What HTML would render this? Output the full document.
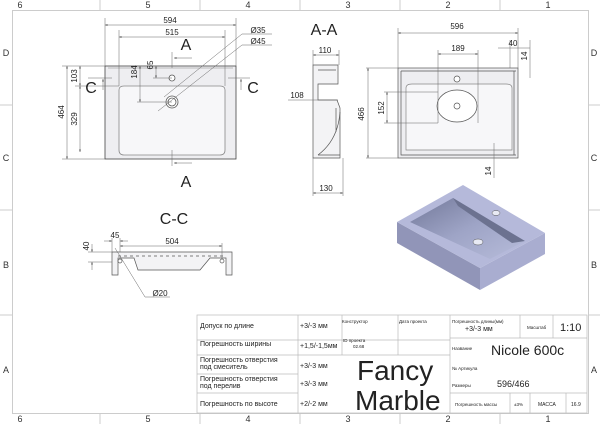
<!DOCTYPE html>
<html><head><meta charset="utf-8"><style>
html,body{margin:0;padding:0;background:#fff;}
svg{display:block;font-family:"Liberation Sans",sans-serif;}
.t{font-family:"Liberation Sans","Noto Sans CJK SC",sans-serif;fill:#222;}
</style></head><body>
<svg width="600" height="424" viewBox="0 0 600 424" xmlns="http://www.w3.org/2000/svg">
<defs>
<marker id="ar" markerWidth="6" markerHeight="6" refX="5" refY="3" orient="auto-start-reverse"><path d="M0,1.5 L5,3 L0,4.5z" fill="#333"/></marker>
<linearGradient id="bg" x1="0" y1="0" x2="1" y2="1"><stop offset="0" stop-color="#727899"/><stop offset="0.5" stop-color="#9ea4c6"/><stop offset="1" stop-color="#b7bcda"/></linearGradient>
</defs>
<g stroke="#ccc" fill="none" stroke-width="1">
<rect x="12.5" y="10.5" width="576" height="403"/>
<line x1="100" y1="0" x2="100" y2="10"/><line x1="200" y1="0" x2="200" y2="10"/><line x1="300" y1="0" x2="300" y2="10"/><line x1="400" y1="0" x2="400" y2="10"/><line x1="500" y1="0" x2="500" y2="10"/>
<line x1="100" y1="414" x2="100" y2="424"/><line x1="200" y1="414" x2="200" y2="424"/><line x1="300" y1="414" x2="300" y2="424"/><line x1="400" y1="414" x2="400" y2="424"/><line x1="500" y1="414" x2="500" y2="424"/>
<line x1="0" y1="105" x2="12" y2="105"/><line x1="0" y1="210" x2="12" y2="210"/><line x1="0" y1="315" x2="12" y2="315"/>
<line x1="589" y1="105" x2="600" y2="105"/><line x1="589" y1="210" x2="600" y2="210"/><line x1="589" y1="315" x2="600" y2="315"/>
</g>
<g font-size="9" fill="#333" text-anchor="middle">
<text x="20" y="8">6</text><text x="148" y="8">5</text><text x="248" y="8">4</text><text x="348" y="8">3</text><text x="448" y="8">2</text><text x="548" y="8">1</text>
<text x="20" y="422">6</text><text x="148" y="422">5</text><text x="248" y="422">4</text><text x="348" y="422">3</text><text x="448" y="422">2</text><text x="548" y="422">1</text>
<text x="6" y="56">D</text><text x="6" y="161">C</text><text x="6" y="268">B</text><text x="6" y="373">A</text>
<text x="594" y="56">D</text><text x="594" y="161">C</text><text x="594" y="268">B</text><text x="594" y="373">A</text>
</g>

<g stroke="#555" stroke-width="0.8">
<rect x="105" y="66" width="131" height="93" stroke="#444" fill="#eeeef1"/>
<path d="M119,90 Q119,86 124,86 L220,86 Q225,86 225,90 L225,150 Q225,155 220,155 L124,155 Q119,155 119,150Z" stroke="#888" fill="#f7f7f9"/>
<path d="M108,68 L233,68" stroke="#aaa" fill="none"/>
<circle cx="172" cy="102" r="6" fill="#fff"/><circle cx="172" cy="102" r="4" fill="none"/>
<circle cx="172" cy="78" r="3" fill="#fff"/>
</g>
<g stroke="#666" stroke-width="0.5" fill="none">
<line x1="105" y1="18" x2="105" y2="66"/><line x1="236" y1="18" x2="236" y2="66"/>
<line x1="105" y1="25" x2="236" y2="25" marker-start="url(#ar)" marker-end="url(#ar)"/>
<line x1="119" y1="30" x2="119" y2="86"/><line x1="225" y1="30" x2="225" y2="86"/>
<line x1="119" y1="37" x2="225" y2="37" marker-start="url(#ar)" marker-end="url(#ar)"/>
<line x1="62" y1="66" x2="105" y2="66"/><line x1="62" y1="159" x2="105" y2="159"/>
<line x1="67" y1="66" x2="67" y2="159" marker-start="url(#ar)" marker-end="url(#ar)"/>
<line x1="75" y1="86" x2="119" y2="86"/>
<line x1="80" y1="66" x2="80" y2="86" marker-start="url(#ar)" marker-end="url(#ar)"/>
<line x1="80" y1="86" x2="80" y2="152" marker-start="url(#ar)" marker-end="url(#ar)"/>
<line x1="140" y1="66" x2="140" y2="102" marker-start="url(#ar)" marker-end="url(#ar)"/>
<line x1="137" y1="102" x2="172" y2="102"/>
<line x1="156" y1="66" x2="156" y2="78" marker-start="url(#ar)" marker-end="url(#ar)"/>
<line x1="153" y1="78" x2="172" y2="78"/>
<line x1="164" y1="97" x2="242" y2="34"/><line x1="242" y1="34" x2="272" y2="34"/>
<line x1="158" y1="111" x2="242" y2="45"/><line x1="242" y1="45" x2="272" y2="45"/>
<line x1="172" y1="52" x2="172" y2="68"/><line x1="172" y1="150" x2="172" y2="166"/>
<line x1="192" y1="58" x2="174" y2="58" marker-end="url(#ar)"/>
<line x1="192" y1="163" x2="174" y2="163" marker-end="url(#ar)"/>
<line x1="88" y1="78" x2="112" y2="78"/><line x1="228" y1="78" x2="250" y2="78"/>
<line x1="103" y1="90" x2="103" y2="79" marker-end="url(#ar)"/>
<line x1="241" y1="90" x2="241" y2="79" marker-end="url(#ar)"/>
</g>
<g class="t" font-size="8" text-anchor="middle">
<text x="170" y="23">594</text><text x="172" y="35">515</text>
<text transform="translate(64,112) rotate(-90)">464</text>
<text transform="translate(77,76) rotate(-90)">103</text>
<text transform="translate(77,119) rotate(-90)">329</text>
<text transform="translate(137,72) rotate(-90)">184</text>
<text transform="translate(153,65) rotate(-90)">65</text>
<text x="258" y="33">Ø35</text>
<text x="258" y="44">Ø45</text>
</g>
<g class="t" font-size="16" text-anchor="middle">
<text x="186" y="50">A</text><text x="186" y="187">A</text>
<text x="91" y="93">C</text><text x="253" y="93">C</text>
<text x="324" y="35">A-A</text>
<text x="174" y="224">C-C</text>
</g>

<g stroke="#555" fill="none" stroke-width="0.7">
<path d="M313,65 L338,65 L338,84 L318,84 L318,100 L337,100 L340,108 L340,158 L313,158 Z" fill="#f3f3f5"/>
<path d="M318,70 L336,70 M340,112 Q338,140 318,155 M318,155 L340,155 M336,108 L336,132"/>
</g>
<g stroke="#666" stroke-width="0.5" fill="none">
<line x1="313" y1="50" x2="313" y2="65"/><line x1="339" y1="50" x2="339" y2="65"/>
<line x1="313" y1="55" x2="339" y2="55" marker-start="url(#ar)" marker-end="url(#ar)"/>
<line x1="288" y1="100" x2="338" y2="100"/>
<line x1="313" y1="158" x2="313" y2="196"/><line x1="343" y1="158" x2="343" y2="196"/>
<line x1="313" y1="193" x2="343" y2="193" marker-start="url(#ar)" marker-end="url(#ar)"/>
</g>
<g class="t" font-size="8" text-anchor="middle">
<text x="325" y="53">110</text><text x="297" y="98">108</text><text x="326" y="191">130</text>
</g>

<g stroke="#555" stroke-width="0.7">
<rect x="398" y="68" width="120" height="90" fill="#eeeef1"/>
<path d="M401,71 L516,71 M401,71 L401,155 L516,155 M514,71 L514,155" fill="none"/>
<path d="M406,88 Q406,84 412,84 L506,84 Q512,84 512,88 L512,150 L406,150 Z" stroke="#888" fill="#f7f7f9"/>
<ellipse cx="457" cy="106" rx="20" ry="16" fill="#fff"/>
<circle cx="457" cy="106" r="3" fill="none"/><circle cx="457" cy="79" r="3" fill="#fff"/>
</g>
<g stroke="#666" stroke-width="0.5" fill="none">
<line x1="398" y1="28" x2="398" y2="68"/><line x1="518" y1="28" x2="518" y2="68"/>
<line x1="398" y1="33" x2="518" y2="33" marker-start="url(#ar)" marker-end="url(#ar)"/>
<line x1="438" y1="50" x2="438" y2="123"/><line x1="478" y1="50" x2="478" y2="123"/>
<line x1="438" y1="54" x2="478" y2="54" marker-start="url(#ar)" marker-end="url(#ar)"/>
<line x1="510" y1="40" x2="510" y2="68"/>
<line x1="498" y1="48" x2="530" y2="48"/>
<line x1="530" y1="40" x2="530" y2="78"/>
<line x1="366" y1="68" x2="398" y2="68"/><line x1="366" y1="158" x2="398" y2="158"/>
<line x1="368" y1="68" x2="368" y2="158" marker-start="url(#ar)" marker-end="url(#ar)"/>
<line x1="384" y1="92" x2="438" y2="92"/><line x1="384" y1="123" x2="438" y2="123"/>
<line x1="387" y1="92" x2="387" y2="123" marker-start="url(#ar)" marker-end="url(#ar)"/>
<line x1="494" y1="143" x2="494" y2="178"/>
</g>
<g class="t" font-size="8" text-anchor="middle">
<text x="457" y="29">596</text><text x="458" y="51">189</text><text x="513" y="46">40</text>
<text transform="translate(527,56) rotate(-90)">14</text>
<text transform="translate(364,114) rotate(-90)">466</text>
<text transform="translate(384,108) rotate(-90)">152</text>
<text transform="translate(491,171) rotate(-90)">14</text>
</g>

<polygon points="397,222 480,268 480,290 397,243" fill="#9195b8"/>
<polygon points="480,268 545,233 545,254 480,290" fill="#a9add0"/>
<polygon points="463,185 545,233 480,268 397,222" fill="#b5b9da"/>
<polygon points="453,198 525,241 490,259 410,222" fill="url(#bg)"/>
<polygon points="453,198 525,241 512,243 458,206" fill="#6c7290"/>
<ellipse cx="496" cy="213" rx="4" ry="2.5" fill="#e8eaf4" stroke="#555" stroke-width="0.5"/>
<ellipse cx="478" cy="242" rx="5" ry="3" fill="#e8eaf4" stroke="#555" stroke-width="0.5"/>

<g stroke="#555" fill="none" stroke-width="0.7">
<path d="M112,252 L232,252 L232,275 L226,275 L226,258 L210,258 L200,270 L138,270 L134,258 L118,258 L118,275 L112,275 Z" fill="#f3f3f5"/>
<line x1="118" y1="256" x2="226" y2="256" stroke-dasharray="3,3"/>
<circle cx="120" cy="261" r="2"/><circle cx="222" cy="261" r="2"/>
</g>
<g stroke="#666" stroke-width="0.5" fill="none">
<line x1="112" y1="238" x2="112" y2="252"/><line x1="120" y1="238" x2="120" y2="252"/>
<line x1="104" y1="241" x2="112" y2="241" marker-end="url(#ar)"/>
<line x1="128" y1="241" x2="120" y2="241" marker-end="url(#ar)"/>
<line x1="120" y1="246" x2="222" y2="246" marker-start="url(#ar)" marker-end="url(#ar)"/>
<line x1="222" y1="243" x2="222" y2="258"/>
<line x1="88" y1="252" x2="112" y2="252"/><line x1="88" y1="262" x2="112" y2="262"/>
<line x1="92" y1="244" x2="92" y2="252" marker-end="url(#ar)"/>
<line x1="92" y1="270" x2="92" y2="262" marker-end="url(#ar)"/>
<line x1="115" y1="248" x2="145" y2="297"/><line x1="145" y1="297" x2="170" y2="297"/>
</g>
<g class="t" font-size="8" text-anchor="middle">
<text x="115" y="238">45</text><text x="172" y="244">504</text>
<text transform="translate(89,246) rotate(-90)">40</text>
<text x="160" y="296">Ø20</text>
</g>

<g stroke="#bbb" stroke-width="0.7" fill="none">
<rect x="197" y="315" width="390" height="98"/>
<line x1="197" y1="340" x2="450" y2="340"/><line x1="197" y1="355" x2="298" y2="355"/>
<line x1="197" y1="374" x2="298" y2="374"/><line x1="197" y1="393" x2="298" y2="393"/>
<line x1="298" y1="355" x2="450" y2="355"/>
<line x1="298" y1="315" x2="298" y2="413"/><line x1="342" y1="315" x2="342" y2="355"/>
<line x1="398" y1="315" x2="398" y2="355"/><line x1="450" y1="315" x2="450" y2="413"/>
<line x1="520" y1="315" x2="520" y2="338"/><line x1="553" y1="315" x2="553" y2="338"/>
<line x1="450" y1="338" x2="587" y2="338"/><line x1="450" y1="393" x2="587" y2="393"/>
<line x1="510" y1="393" x2="510" y2="413"/><line x1="530" y1="393" x2="530" y2="413"/><line x1="566" y1="393" x2="566" y2="413"/>
</g>
<g class="t" font-size="7">
<text x="200" y="328">Допуск по длине</text>
<text x="200" y="346">Погрешность ширины</text>
<text x="200" y="362">Погрешность отверстия</text><text x="200" y="369">под смеситель</text>
<text x="200" y="381">Погрешность отверстия</text><text x="200" y="388">под перелив</text>
<text x="200" y="406">Погрешность по высоте</text>
<text x="300" y="328">+3/-3 мм</text><text x="300" y="348">+1,5/-1,5мм</text>
<text x="300" y="368">+3/-3 мм</text><text x="300" y="386">+3/-3 мм</text><text x="300" y="406">+2/-2 мм</text>
<text x="342" y="323" font-size="4.5">Конструктор</text><text x="399" y="323" font-size="4.5">Дата проекта</text>
<text x="343" y="342" font-size="4.5">ID проекта</text><text x="353" y="348" font-size="4.5">02.68</text>
<text x="452" y="323" font-size="4.5">Погрешность длины(мм)</text>
<text x="465" y="331" font-size="7">+3/-3 мм</text>
<text x="527" y="329" font-size="4.5">Масштаб</text>
<text x="560" y="331" font-size="11">1:10</text>
<text x="452" y="350" font-size="4.5">Название</text>
<text x="491" y="355" font-size="14">Nicole 600c</text>
<text x="452" y="370" font-size="4.5">№ Артикула</text>
<text x="452" y="387" font-size="4.5">Размеры</text>
<text x="497" y="387" font-size="9">596/466</text>
<text x="455" y="406" font-size="4.5">Погрешность массы</text>
<text x="514" y="406" font-size="4.5">±3%</text>
<text x="538" y="406" font-size="5">МАССА</text>
<text x="571" y="406" font-size="5">16.9</text>
<text x="357" y="380" font-size="28" font-family="Liberation Sans, sans-serif">Fancy</text>
<text x="355" y="410" font-size="28" font-family="Liberation Sans, sans-serif">Marble</text>
</g>
</svg>
</body></html>
